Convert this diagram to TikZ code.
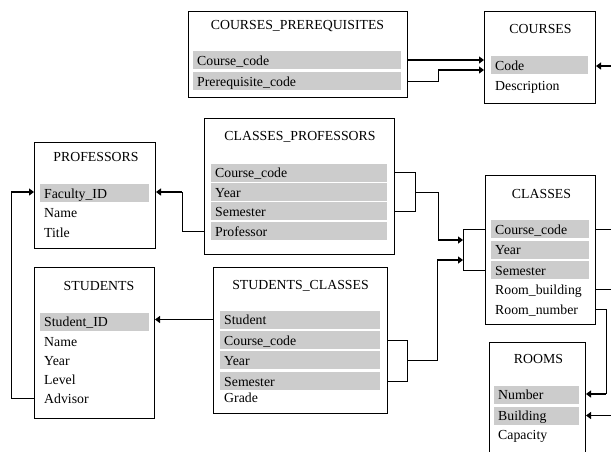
\documentclass[tikz,border=0pt]{standalone}
\usepackage{fontspec}
\setmainfont{Liberation Serif}
\usetikzlibrary{arrows.meta}
\definecolor{keygray}{HTML}{CCCCCC}
\begin{document}
\begin{tikzpicture}[x=1pt,y=-1pt,
  tbl/.style={draw=black, line width=1pt, anchor=north west, inner sep=0pt},
  ttl/.style={anchor=base, font=\fontsize{13.8pt}{16pt}\selectfont, inner sep=0pt},
  fld/.style={anchor=west, minimum height=18pt, text height=11pt, text depth=1pt,
    inner ysep=0pt, inner xsep=4pt, font=\fontsize{13.8pt}{16pt}\selectfont,
    align=left, text width=#1},
  key/.style={fld=#1, fill=keygray},
  conn/.style={line width=0.9pt},
  arr/.style={line width=1.3pt, -{Triangle[length=5pt,width=7pt]}},
]
\clip (0,0) rectangle (611,451);
\fill[white] (0,0) rectangle (611,451);

% COURSES_PREREQUISITES
\node[tbl, minimum width=219pt, minimum height=86pt] (cpre) at (188,11) {};
\node[ttl] (cpreT) at (297.5,29) {COURSES\_PREREQUISITES};
\node[key=200pt] (cpre1) at (193,60) {Course\_code};
\node[key=200pt] (cpre2) at (193,81) {Prerequisite\_code};

% COURSES
\node[tbl, minimum width=111pt, minimum height=92pt] (courses) at (484,11) {};
\node[ttl] (coursesT) at (540.5,33) {COURSES};
\node[key=89pt] (co1) at (491,65) {Code};
\node[fld=89pt] (co2) at (491,85) {Description};

% PROFESSORS
\node[tbl, minimum width=121pt, minimum height=106pt] (prof) at (34,142) {};
\node[ttl] (profT) at (96,161.5) {PROFESSORS};
\node[key=101pt] (pr1) at (40,193) {Faculty\_ID};
\node[fld=101pt] (pr2) at (40,212.5) {Name};
\node[fld=101pt] (pr3) at (40,232) {Title};

% CLASSES_PROFESSORS
\node[tbl, minimum width=190pt, minimum height=136pt] (cp) at (204,118) {};
\node[ttl] (cpT) at (300,140.5) {CLASSES\_PROFESSORS};
\node[key=168pt] (cp1) at (211,172.5) {Course\_code};
\node[key=168pt] (cp2) at (211,192) {Year};
\node[key=168pt] (cp3) at (211,211) {Semester};
\node[key=168pt] (cp4) at (211,231) {Professor};

% CLASSES
\node[tbl, minimum width=110pt, minimum height=149pt] (classes) at (485,175) {};
\node[ttl] (classesT) at (541.5,198) {CLASSES};
\node[key=90pt] (cl1) at (491,229) {Course\_code};
\node[key=90pt] (cl2) at (491,249.5) {Year};
\node[key=90pt] (cl3) at (491,270) {Semester};
\node[fld=90pt] (cl4) at (491,289.5) {Room\_building};
\node[fld=90pt] (cl5) at (491,309) {Room\_number};

% ROOMS
\node[tbl, minimum width=96pt, minimum height=130pt] (rooms) at (489,342) {};
\node[ttl] (roomsT) at (538.5,363) {ROOMS};
\node[key=77pt] (ro1) at (494,394.5) {Number};
\node[key=77pt] (ro2) at (494,415.5) {Building};
\node[fld=77pt] (ro3) at (494,434.5) {Capacity};

% STUDENTS
\node[tbl, minimum width=120pt, minimum height=151pt] (st) at (34,267) {};
\node[ttl] (stT) at (99,290) {STUDENTS};
\node[key=101pt] (st1) at (40,321.5) {Student\_ID};
\node[fld=101pt] (st2) at (40,341) {Name};
\node[fld=101pt] (st3) at (40,360) {Year};
\node[fld=101pt] (st4) at (40,379.5) {Level};
\node[fld=101pt] (st5) at (40,398.5) {Advisor};

% STUDENTS_CLASSES
\node[tbl, minimum width=174pt, minimum height=146pt] (sc) at (213,267) {};
\node[ttl] (scT) at (300.5,289) {STUDENTS\_CLASSES};
\node[key=152pt] (sc1) at (220,319.5) {Student};
\node[key=152pt] (sc2) at (220,340) {Course\_code};
\node[key=152pt] (sc3) at (220,360) {Year};
\node[key=152pt] (sc4) at (220,381) {Semester};
\node[fld=152pt] (sc5) at (220,397.5) {Grade};

% helper coordinates
\coordinate (prk) at (438,70);
\coordinate (edge) at (611,0);
\coordinate (e1) at (611,66);
\coordinate (cpk) at (182,192);
\coordinate (advk) at (11,192);
\coordinate (cpbx) at (415,0);
\coordinate (cpj) at (438,240);
\coordinate (clbx) at (463,0);
\coordinate (scbx) at (407,0);
\coordinate (scj) at (437,260);
\coordinate (rnk) at (606,394);

% connectors
\draw[arr] (cpre.east |- cpre1) -- (courses.west |- cpre1);
\draw[conn] (cpre.east |- cpre2) -| (prk);
\draw[arr] (prk) -- (courses.west |- prk);
\draw[arr] (e1) -- (courses.east |- e1);

\draw[conn] (cp.west |- cp4) -| (cpk);
\draw[arr] (cpk) -- (prof.east |- cpk);
\draw[conn] (st.west |- st5) -| (advk);
\draw[arr] (advk) -- (prof.west |- advk);

\draw[arr] (sc.west |- sc1) -- (st.east |- sc1);

\draw[conn] (cp.east |- cp1) -| (cpbx |- cp3) -- (cp.east |- cp3);
\draw[conn] (cpbx |- cp2) -| (cpj);
\draw[arr] (cpj) -- (clbx |- cpj);

\draw[conn] (sc.east |- sc2) -| (scbx |- sc4) -- (sc.east |- sc4);
\draw[conn] (scbx |- sc3) -| (scj);
\draw[arr] (scj) -- (clbx |- scj);

\draw[conn] (classes.west |- cl1) -| (clbx |- cl3) -- (classes.west |- cl3);

\draw[conn] (classes.east |- cl1) -- (edge |- cl1);
\draw[conn] (classes.east |- cl4) -- (edge |- cl4);
\draw[conn] (classes.east |- cl5) -| (rnk);
\draw[arr] (rnk) -- (rooms.east |- rnk);
\draw[arr] (edge |- ro2) -- (rooms.east |- ro2);
\end{tikzpicture}
\end{document}
